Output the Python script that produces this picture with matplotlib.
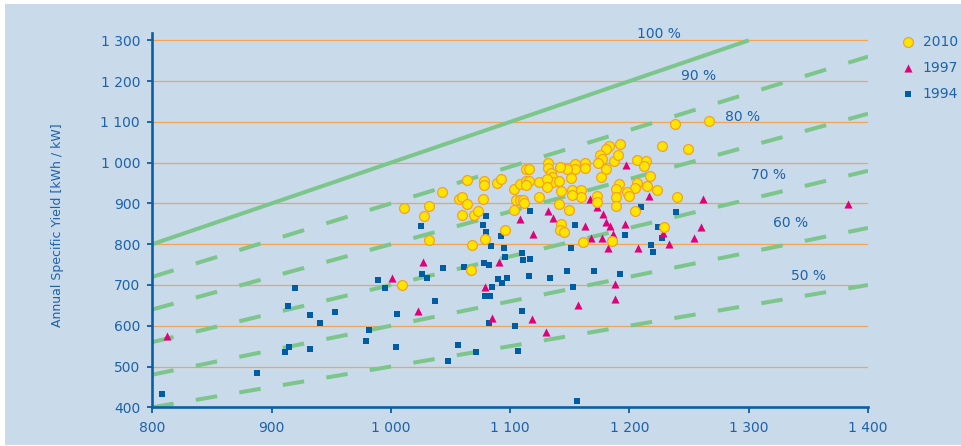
import numpy as np
import matplotlib
matplotlib.use('Agg')
import matplotlib.pyplot as plt
from matplotlib.patches import Rectangle

# irradiation [kWh/m2] vs annual specific yield [kWh/kW]
x2010 = [1011, 1009, 1028, 1032, 1032, 1043, 1057, 1060, 1064, 1064, 1060, 1070,
         1073, 1068, 1067, 1077, 1078, 1078, 1089, 1092, 1096, 1103, 1103, 1108,
         1105, 1108, 1111, 1112, 1113, 1116, 1113, 1116, 1113, 1124, 1124, 1132,
         1132, 1134, 1135, 1136, 1131, 1131, 1141, 1238, 1267, 1227, 1249, 1192,
         1183, 1180, 1175, 1177, 1187, 1190, 1174, 1180, 1176, 1206, 1214, 1212,
         1217, 1215, 1223, 1206, 1205, 1198, 1200, 1191, 1189, 1189, 1189, 1205,
         1240, 1163, 1163, 1154, 1154, 1148, 1142, 1151, 1152, 1159, 1159, 1152,
         1143, 1173, 1173, 1141, 1149, 1079, 1143, 1142, 1145, 1161, 1185, 1229]
y2010 = [890, 701, 870, 894, 810, 929, 910, 915, 957, 898, 871, 871,
         881, 797, 737, 911, 955, 946, 949, 960, 836, 936, 884, 947,
         908, 908, 908, 900, 984, 984, 956, 956, 944, 953, 917, 998,
         986, 974, 964, 953, 960, 941, 955, 1094, 1102, 1042, 1034, 1045,
         1040, 1033, 1019, 1008, 1003, 1018, 998, 985, 966, 1007, 1005, 993,
         968, 943, 932, 951, 939, 927, 918, 947, 935, 916, 894, 881,
         917, 998, 986, 996, 984, 984, 989, 963, 934, 934, 916, 920,
         931, 918, 903, 898, 884, 812, 849, 836, 829, 805, 808, 841]

x1997 = [812, 1001, 1027, 1023, 1079, 1085, 1091, 1119, 1108, 1118, 1130, 1132,
         1136, 1167, 1173, 1178, 1180, 1184, 1186, 1177, 1182, 1168, 1163, 1197,
         1196, 1216, 1207, 1228, 1233, 1254, 1260, 1262, 1188, 1188, 1157, 1383]
y1997 = [576, 716, 756, 637, 696, 620, 757, 825, 862, 616, 584, 882,
         864, 911, 892, 873, 855, 845, 824, 815, 791, 815, 844, 994,
         849, 919, 791, 827, 800, 815, 842, 911, 703, 666, 650, 899]

x1994 = [808, 888, 911, 915, 932, 914, 920, 932, 941, 953, 979, 982,
         989, 995, 1005, 1004, 1025, 1026, 1030, 1044, 1037, 1061, 1056, 1077,
         1080, 1092, 1084, 1095, 1096, 1110, 1111, 1117, 1078, 1082, 1090, 1093,
         1097, 1085, 1079, 1083, 1082, 1104, 1110, 1116, 1133, 1107, 1048, 1071,
         1156, 1154, 1196, 1151, 1218, 1220, 1224, 1227, 1148, 1170, 1192, 1153,
         1117, 1080, 1210, 1239]
y1994 = [433, 483, 536, 547, 544, 648, 692, 626, 607, 633, 563, 590,
         711, 692, 630, 548, 845, 726, 718, 742, 661, 745, 553, 848,
         830, 821, 795, 790, 769, 779, 761, 763, 755, 750, 714, 704,
         718, 694, 672, 672, 607, 599, 637, 723, 718, 538, 513, 536,
         415, 847, 822, 791, 798, 781, 843, 814, 734, 734, 728, 694,
         881, 868, 891, 878]

# performance ratio lines and their labels
ratios = [1.0, 0.9, 0.8, 0.7, 0.6, 0.5]
ratio_labels = ['100 %', '90 %', '80 %', '70 %', '60 %', '50 %']
label_x = [1225, 1258, 1295, 1317, 1335, 1350]
label_y = [1315, 1213, 1113, 970, 851, 723]

xticks = [800, 900, 1000, 1100, 1200, 1300, 1400]
yticks = [400, 500, 600, 700, 800, 900, 1000, 1100, 1200, 1300]

bg = '#c9daea'
blue_txt = '#1d62aa'
spine_c = '#0a5ea6'
grid_c = '#f0a455'
green = '#7cc68c'

plt.rcParams['lines.scale_dashes'] = False
plt.rcParams['font.family'] = ['DejaVu Sans']

fig = plt.figure(figsize=(9.61, 4.46), dpi=100)
fig.patches.append(Rectangle((5/961, 1/446), 956/961, 441/446, transform=fig.transFigure,
                             facecolor=bg, edgecolor='none', zorder=-10))
ax = fig.add_axes([152.3/961, 38.7/446, 715.7/961, 374.3/446])
ax.set_facecolor('none')
ax.set_xlim(800, 1400)
ax.set_ylim(400, 1318)

for v in yticks[1:]:
    ax.plot([800, 1400], [v, v], color=grid_c, lw=0.9, zorder=1)

# dash period of ~43.5 px measured horizontally
fig.canvas.draw()
pxx = ax.transData.transform([(800, 0), (900, 0)])
pxy = ax.transData.transform([(0, 400), (0, 500)])
sx = (pxx[1][0] - pxx[0][0]) / 100
sy = (pxy[1][1] - pxy[0][1]) / 100
for r in ratios:
    if r == 1.0:
        ax.plot([800, 1300], [800, 1300], color=green, lw=2.9, zorder=2, solid_capstyle='butt')
    else:
        k = np.hypot(1, r * sy / sx)
        per = 43.5 * k * 72 / 100
        ax.plot([800, 1400], [800 * r, 1400 * r], color=green, lw=2.9, zorder=2,
                dashes=(per * 0.49, per * 0.51), dash_capstyle='butt')

for t, lx, ly in zip(ratio_labels, label_x, label_y):
    ax.text(lx, ly, t, color=blue_txt, fontsize=10, ha='center', va='center', clip_on=False)

s94 = ax.scatter(x1994, y1994, marker='s', s=24, color='#005ca3', linewidths=0, zorder=4, label='1994')
s97 = ax.scatter(x1997, y1997, marker='^', s=34, color='#e2007a', linewidths=0, zorder=5, label='1997')
s10 = ax.scatter(x2010, y2010, marker='o', s=50, facecolor='#ffe600', edgecolor='#f2a12a',
                 linewidths=0.9, zorder=6, label='2010')

for side in ['top', 'right']:
    ax.spines[side].set_visible(False)
for side in ['left', 'bottom']:
    ax.spines[side].set_color(spine_c)
    ax.spines[side].set_linewidth(1.9)
ax.set_xticks(xticks)
ax.set_yticks(yticks)
ax.set_xticklabels([f'{v:,}'.replace(',', ' ') for v in xticks])
ax.set_yticklabels([f'{v:,}'.replace(',', ' ') for v in yticks])
ax.tick_params(axis='x', direction='out', length=4.5, width=1.3, color=spine_c,
               labelcolor=blue_txt, labelsize=10, pad=5.5)
ax.tick_params(axis='y', direction='out', length=3.8, width=1.3, color=spine_c,
               labelcolor=blue_txt, labelsize=10, pad=5)

fig.text(58/961, 1 - 225/446, 'Annual Specific Yield [kWh / kW]', rotation=90,
         color=blue_txt, fontsize=9, ha='center', va='center')

leg = ax.legend(handles=[s10, s97, s94], loc='upper left', bbox_to_anchor=(901/961, 1 - 35/446),
                bbox_transform=fig.transFigure, frameon=False, borderpad=0, borderaxespad=0,
                handlelength=1.0, handletextpad=0.55, labelspacing=0.85, fontsize=10,
                scatterpoints=1)
for t in leg.get_texts():
    t.set_color(blue_txt)

plt.savefig('out.png', dpi=100)
